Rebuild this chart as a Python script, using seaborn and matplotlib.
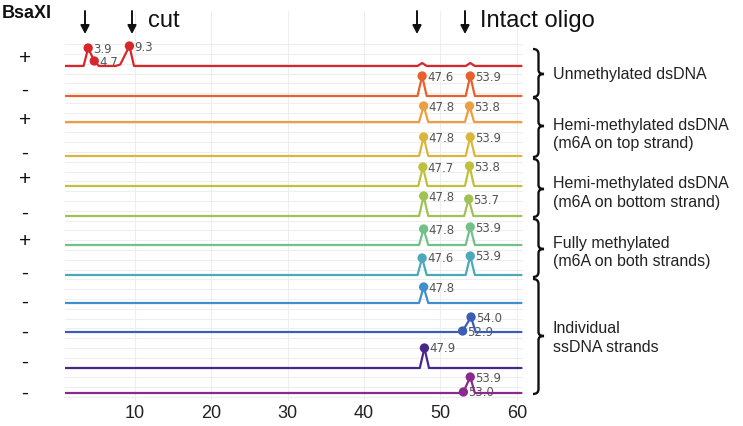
import numpy as np
import pandas as pd
import matplotlib
matplotlib.use("Agg")
import matplotlib.pyplot as plt
import matplotlib.transforms as mtrans
from matplotlib.path import Path
from matplotlib.patches import PathPatch, FancyArrowPatch
import seaborn as sns

# ---------------- data ----------------
bsaxi = ["+", "-", "+", "-", "+", "-", "+", "-", "-", "-", "-", "-"]

peak_rt = [[3.9, 4.7, 9.3], [47.6, 53.9], [47.8, 53.8], [47.8, 53.9],
           [47.7, 53.8], [47.8, 53.7], [47.8, 53.9], [47.6, 53.9],
           [47.8], [52.9, 54.0], [47.9], [53.0, 53.9]]
peak_height = [[18, 5, 20], [20, 20], [16, 16], [19, 19],
               [19, 20], [20, 17], [16, 18], [17, 19],
               [16], [1, 15], [20], [1, 16]]
# small unlabelled bumps (row index, retention time, height)
minor_row = [0, 0, 0]
minor_rt = [8.1, 47.6, 53.9]
minor_height = [1.5, 3, 3]

groups = ["Unmethylated dsDNA",
          "Hemi-methylated dsDNA\n(m6A on top strand)",
          "Hemi-methylated dsDNA\n(m6A on bottom strand)",
          "Fully methylated\n(m6A on both strands)",
          "Individual\nssDNA strands"]

colors = ["#d8262a", "#e8602c", "#eaa042", "#d8b73c", "#bfc13c", "#a0c255",
          "#72c08a", "#4ba9b9", "#3f8ece", "#3b5db3", "#47288a", "#8b2a8d"]

x_ticks = [10, 20, 30, 40, 50, 60]
rt_start, rt_end = 0.87, 60.6

# ---------------- layout ----------------
W, H = 743, 427
baseline_px = [67, 97, 123, 157, 187, 217, 246, 276, 304, 333, 369, 394]
sign_px = [58, 90, 120, 153, 180, 213, 242, 273, 302, 332, 362, 393]
half_w = 0.6

sns.set_theme(style="white")
plt.rcParams["font.family"] = ["Liberation Sans", "DejaVu Sans"]

fig = plt.figure(figsize=(W / 100, H / 100), dpi=100)
px = mtrans.Affine2D().scale(1 / W, -1 / H).translate(0, 1) + fig.transFigure

ax = fig.add_axes([65 / W, 1 - 402 / H, (523 - 65) / W, (402 - 12) / H])


def build_trace(i):
    pk = [(r, h) for r, h in zip(peak_rt[i], peak_height[i])]
    pk += [(r, h) for ri, r, h in zip(minor_row, minor_rt, minor_height) if ri == i]
    pk.sort()
    xs, ys = [rt_start], [0.0]
    for k, (r, h) in enumerate(pk):
        prev_close = k > 0 and r - pk[k - 1][0] < 2 * half_w + 0.3
        next_close = k < len(pk) - 1 and pk[k + 1][0] - r < 2 * half_w + 0.3
        if not prev_close:
            xs.append(r - half_w); ys.append(0.0)
        xs.append(r); ys.append(h)
        if not next_close:
            xs.append(r + half_w); ys.append(0.0)
    xs.append(rt_end); ys.append(0.0)
    return xs, ys


rec, mk = [], []
for i in range(len(bsaxi)):
    xs, ys = build_trace(i)
    for j, (x, y) in enumerate(zip(xs, ys)):
        rec.append(dict(trace=f"t{i}", order=j, rt=x, sig=y - baseline_px[i]))
    for r, h in zip(peak_rt[i], peak_height[i]):
        mk.append(dict(trace=f"t{i}", rt=r, sig=h - baseline_px[i], lab=f"{r:.1f}"))
df = pd.DataFrame(rec)
dm = pd.DataFrame(mk)
order = [f"t{i}" for i in range(len(bsaxi))]

sns.lineplot(data=df, x="rt", y="sig", hue="trace", hue_order=order,
             palette=colors, units="trace", estimator=None, sort=False,
             legend=False, linewidth=1.6, ax=ax, zorder=3)
sns.scatterplot(data=dm, x="rt", y="sig", hue="trace", hue_order=order,
                palette=colors, s=45, edgecolor="none", legend=False,
                ax=ax, zorder=4)
for _, r in dm.iterrows():
    ax.annotate(r["lab"], (r["rt"], r["sig"]), xytext=(3.5, 0),
                textcoords="offset points", ha="left", va="center",
                fontsize=8.5, color="#555555", family="DejaVu Sans", zorder=2)

ax.set_xlim(rt_start, 60.8)
ax.set_ylim(-402, -12)
ax.set_xticks(x_ticks)
ax.set_xticklabels([str(t) for t in x_ticks])
ax.set_yticks(np.arange(-398, -38, 9.8))
ax.set_yticklabels([])
ax.grid(True, color="#eeeeee", linewidth=0.8)
ax.set_axisbelow(True)
ax.tick_params(axis="x", length=0, pad=2, labelsize=13, labelcolor="#222222")
ax.tick_params(axis="y", length=0)
ax.set_xlabel("")
ax.set_ylabel("")
for s in ax.spines.values():
    s.set_visible(False)

# ---------------- annotations ----------------
fig.text(2, 14, "BsaXI", transform=px, ha="left", va="center",
         fontsize=13, fontweight="bold", color="#111111")
for s, y in zip(bsaxi, sign_px):
    fig.text(25, y, s, transform=px, ha="center", va="center",
             fontsize=15, color="#111111")

for x in [85, 132, 417, 465]:
    fig.patches.append(FancyArrowPatch(
        (x, 12), (x, 35), transform=px,
        arrowstyle="-|>,head_length=5,head_width=2.6",
        lw=1.4, color="#111111", shrinkA=0, shrinkB=0))
fig.text(148, 21, "cut", transform=px, ha="left", va="center",
         fontsize=17, color="#111111")
fig.text(480, 21, "Intact oligo", transform=px, ha="left", va="center",
         fontsize=17, color="#111111")

brace_spans = [(50, 98, 75), (99, 158, 127), (160, 218, 190),
               (220, 278, 250), (280, 395, 337)]
text_y = [75, 134.5, 193, 252.5, 338]


def brace(y0, y1, ym, x0=533, xv=538.5, xt=544):
    verts = [(x0, y0), (xv, y0), (xv, y0 + 5),
             (xv, ym - 4),
             (xv, ym), (xt, ym),
             (xv, ym), (xv, ym + 4),
             (xv, y1 - 5),
             (xv, y1), (x0, y1)]
    codes = [Path.MOVETO, Path.CURVE3, Path.CURVE3,
             Path.LINETO,
             Path.CURVE3, Path.CURVE3,
             Path.CURVE3, Path.CURVE3,
             Path.LINETO,
             Path.CURVE3, Path.CURVE3]
    return PathPatch(Path(verts, codes), transform=px, fill=False,
                     lw=1.7, edgecolor="#111111")


for (y0, y1, ym), g, ty in zip(brace_spans, groups, text_y):
    fig.patches.append(brace(y0, y1, ym))
    fig.text(553, ty, g, transform=px, ha="left", va="center",
             fontsize=11.5, linespacing=1.3, color="#222222")

fig.savefig("out.png", dpi=100)
